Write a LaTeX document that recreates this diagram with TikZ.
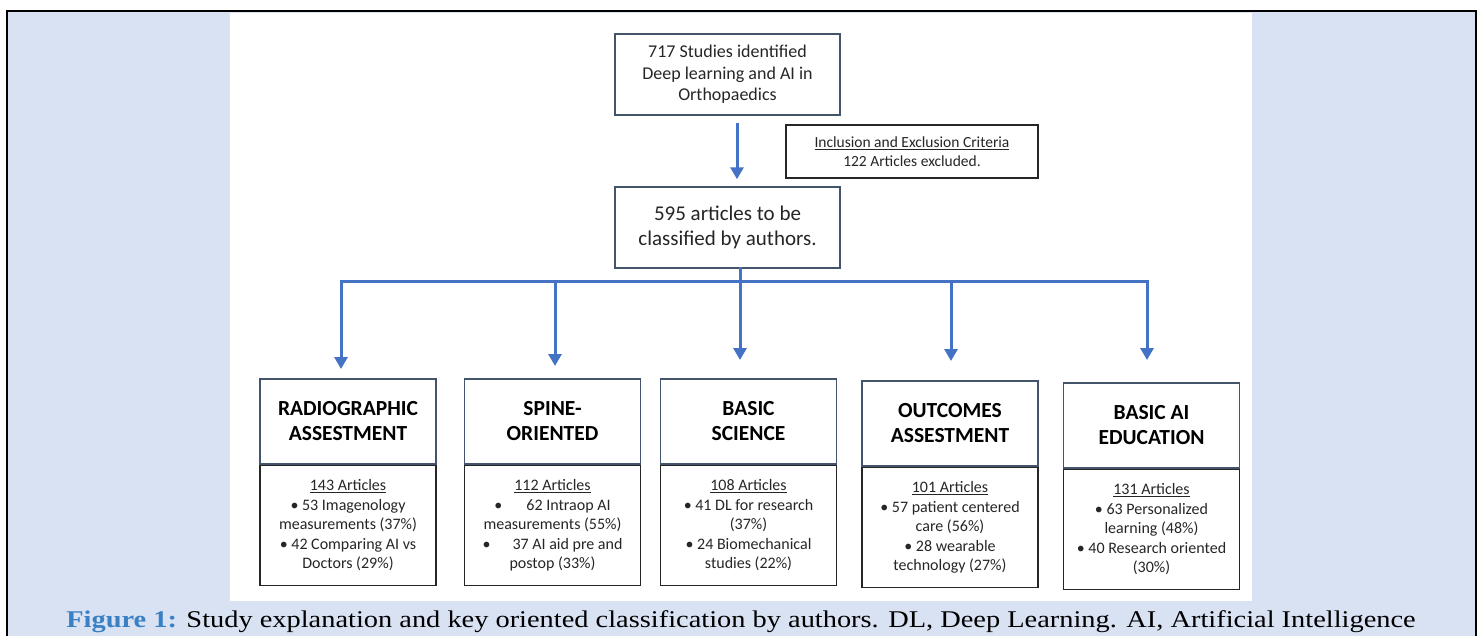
\documentclass[tikz,border=0pt]{standalone}
\usepackage{fontspec}
\usetikzlibrary{arrows.meta,positioning}
\setmainfont{Carlito}
\newfontfamily\capfont{Liberation Serif}
\definecolor{panelblue}{HTML}{D9E2F3}
\definecolor{flowblue}{HTML}{4472C4}
\definecolor{slateedge}{HTML}{44546A}
\definecolor{captionblue}{HTML}{3A80C4}
\definecolor{inktext}{HTML}{262626}
\tikzset{
  flowbox/.style={draw=slateedge, line width=1.5pt, fill=white, align=center,
                  text=inktext, minimum width=225pt, minimum height=81pt, inner sep=2pt},
  notebox/.style={draw=black!85, line width=1.8pt, fill=white, align=center,
                  text=inktext, minimum width=252pt, minimum height=53pt,
                  font=\fontsize{15.5}{19}\selectfont},
  headbox/.style={draw=slateedge, line width=1.5pt, fill=white, align=center,
                  text=black, minimum width=176pt, minimum height=85pt, anchor=north,
                  font=\bfseries\fontsize{21.5}{25}\selectfont},
  countbox/.style={draw=black!85, line width=1.8pt, fill=white, align=center,
                   text=inktext, minimum width=176pt, minimum height=120pt, anchor=north,
                   font=\fontsize{16}{19.5}\selectfont},
  flow/.style={draw=flowblue, line width=3pt, -{Triangle[length=12pt,width=13pt]}},
  bus/.style={draw=flowblue, line width=3pt, line cap=rect},
}
\begin{document}
\begin{tikzpicture}[x=1pt,y=-1pt]
  \useasboundingbox (0,0) rectangle (1480,635);
  % frame and panels
  \fill[panelblue] (7,11) rectangle (1476,640);
  \fill[white] (230,13) rectangle (1252,601);
  \draw[black, line width=2.5pt] (7,640) -- (7,11) -- (1476,11) -- (1476,640);

  % top of the flow
  \node[flowbox, font=\fontsize{18}{21.5}\selectfont] (ident) at (727.5,74.5)
    {717 Studies identified\\Deep learning and AI in\\Orthopaedics};
  \node[flowbox, font=\fontsize{21}{25}\selectfont] (pool) at (727.5,227.5)
    {595 articles to be\\classified by authors.};
  \node[notebox] (crit) at (912,151.5)
    {\underline{Inclusion and Exclusion Criteria}\\122 Articles excluded.};
  \draw[flow, shorten <=7pt, shorten >=7pt] ([xshift=9.5pt]ident.south) -- ([xshift=9.5pt]pool.north);

  % categories
  \node[headbox] (head1) at (348,378) {RADIOGRAPHIC\\ASSESTMENT};
  \node[countbox] (count1) at (head1.south)
    {\underline{143 Articles}\\\textbullet\ 53 Imagenology\\measurements (37\%)\\\textbullet\ 42 Comparing AI vs\\Doctors (29\%)};
  \node[headbox] (head2) at (552.5,378) {SPINE-\\ORIENTED};
  \node[countbox] (count2) at (head2.south)
    {\underline{112 Articles}\\\textbullet\hspace{24pt}62 Intraop AI\\measurements (55\%)\\\textbullet\hspace{22pt}37 AI aid pre and\\postop (33\%)};
  \node[headbox] (head3) at (748.5,378) {BASIC\\SCIENCE};
  \node[countbox] (count3) at (head3.south)
    {\underline{108 Articles}\\\textbullet\ 41 DL for research\\(37\%)\\\textbullet\ 24 Biomechanical\\studies (22\%)};
  \node[headbox] (head4) at (950,380) {OUTCOMES\\ASSESTMENT};
  \node[countbox] (count4) at (head4.south)
    {\underline{101 Articles}\\\textbullet\ 57 patient centered\\care (56\%)\\\textbullet\ 28 wearable\\technology (27\%)};
  \node[headbox] (head5) at (1151.5,382) {BASIC AI\\EDUCATION};
  \node[countbox] (count5) at (head5.south)
    {\underline{131 Articles}\\\textbullet\ 63 Personalized\\learning (48\%)\\\textbullet\ 40 Research oriented\\(30\%)};

  % distribution bus
  \coordinate (junc) at (740,281);
  \foreach \i/\x in {1/341, 2/555, 3/740, 4/951, 5/1147}
    \coordinate (drop\i) at (\x,281);
  \draw[bus] (drop1) -- (drop5);
  \draw[bus] (pool.south -| junc) -- (junc);
  \foreach \i/\gap in {1/9, 2/12, 3/18, 4/19, 5/22}
    \draw[flow, shorten >=\gap pt] (drop\i) -- (drop\i |- head\i.north);

  % caption
  \node[font=\capfont\fontsize{24}{26}\selectfont, inner sep=0pt] (caption) at (741,622)
    {\scalebox{1.183}[1]{\textcolor{captionblue}{\bfseries Figure 1:} Study explanation and key oriented classification by authors. DL, Deep Learning. AI, Artificial Intelligence}};
\end{tikzpicture}
\end{document}
